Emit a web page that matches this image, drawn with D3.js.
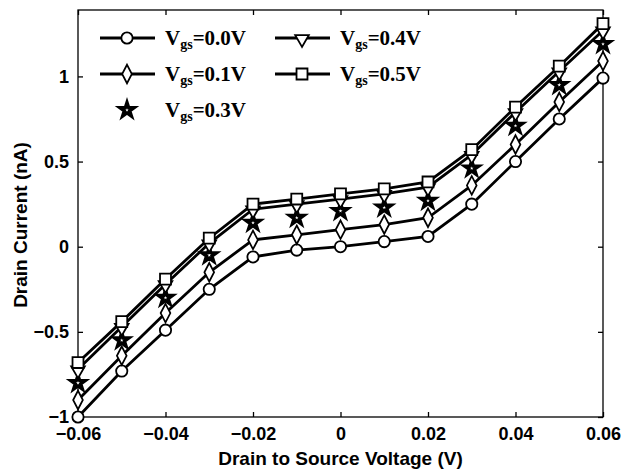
<!DOCTYPE html>
<html>
<head>
<meta charset="utf-8">
<script src="https://cdn.jsdelivr.net/npm/d3@7"></script>
<style>
  body { margin: 0; background: #fff; }
  text { fill: #000; }
</style>
</head>
<body>
<div id="container"></div>
<script>
// drain-source voltage (V)
const vds = [-0.06, -0.05, -0.04, -0.03, -0.02, -0.01, 0, 0.01, 0.02, 0.03, 0.04, 0.05, 0.06];

// drain current (nA) for each gate voltage
const vgs00 = [-1.00, -0.73, -0.49, -0.25, -0.06, -0.02, 0.00, 0.03, 0.06, 0.25, 0.50, 0.75, 0.99];
const vgs01 = [-0.90, -0.64, -0.39, -0.15, 0.04, 0.07, 0.10, 0.13, 0.17, 0.36, 0.60, 0.85, 1.09];
const vgs03 = [-0.80, -0.55, -0.30, -0.05, 0.14, 0.17, 0.21, 0.23, 0.27, 0.46, 0.71, 0.95, 1.19];
const vgs04 = [-0.72, -0.47, -0.22, 0.02, 0.22, 0.25, 0.28, 0.31, 0.35, 0.54, 0.79, 1.03, 1.27];
const vgs05 = [-0.68, -0.44, -0.19, 0.05, 0.25, 0.28, 0.31, 0.34, 0.38, 0.57, 0.82, 1.06, 1.31];

const xTicks = [-0.06, -0.04, -0.02, 0, 0.02, 0.04, 0.06];
const yTicks = [-1, -0.5, 0, 0.5, 1];

const series = [
  {label: "=0.0V", values: vgs00, symbol: "circle", line: true},
  {label: "=0.1V", values: vgs01, symbol: "diamond", line: true},
  {label: "=0.3V", values: vgs03, symbol: "star", line: false},
  {label: "=0.4V", values: vgs04, symbol: "triangle", line: true},
  {label: "=0.5V", values: vgs05, symbol: "square", line: true}
];

const W = 627, H = 472;
const margin = {top: 10, right: 24, bottom: 55, left: 78};
const width = W - margin.left - margin.right;
const height = H - margin.top - margin.bottom;

const svg = d3.select("#container").append("svg")
  .attr("width", W)
  .attr("height", H);

const g = svg.append("g")
  .attr("transform", `translate(${margin.left},${margin.top})`);

const x = d3.scaleLinear().domain([-0.06, 0.06]).range([0, width]);
const y = d3.scaleLinear().domain([-1, 1.39]).range([height, 0]);

const fmt = d => d === 0 ? "0" : d3.format("")(d).replace("-", "\u2212");

// axes with inward ticks, mirrored MATLAB style
const axisStyle = sel => {
  sel.select(".domain").remove();
  sel.selectAll("line").attr("stroke", "#000").attr("stroke-width", 1.3);
  sel.selectAll("text")
    .style("font-family", "Liberation Sans, Arial, sans-serif")
    .style("font-weight", "bold")
    .style("font-size", "18px");
};

g.append("g")
  .attr("transform", `translate(0,${height})`)
  .call(d3.axisBottom(x).tickValues(xTicks).tickFormat(fmt).tickSizeInner(-5).tickPadding(10))
  .call(axisStyle);

g.append("g")
  .call(d3.axisTop(x).tickValues(xTicks).tickFormat("").tickSizeInner(-5))
  .call(axisStyle);

g.append("g")
  .call(d3.axisLeft(y).tickValues(yTicks).tickFormat(fmt).tickSizeInner(-5).tickPadding(9))
  .call(axisStyle);

g.append("g")
  .attr("transform", `translate(${width},0)`)
  .call(d3.axisRight(y).tickValues(yTicks).tickFormat("").tickSizeInner(-5))
  .call(axisStyle);

g.append("rect")
  .attr("width", width)
  .attr("height", height)
  .attr("fill", "none")
  .attr("stroke", "#000")
  .attr("stroke-width", 1.3);

const symbolTypes = {
  circle: d3.symbolCircle,
  diamond: d3.symbolDiamond,
  star: d3.symbolStar,
  triangle: d3.symbolTriangle,
  square: d3.symbolSquare
};
const symbolSize = {circle: 100, diamond: 90, star: 62, triangle: 80, square: 120};

const markerPath = s => d3.symbol().type(symbolTypes[s]).size(symbolSize[s])();

const markerTransform = (s, px, py) => {
  if (s === "triangle") return `translate(${px},${py + 1}) rotate(180)`;
  if (s === "diamond") return `translate(${px},${py}) scale(0.95,1.05)`;
  return `translate(${px},${py})`;
};

const markerStyle = (sel, s) => sel
  .attr("fill", "#fff")
  .attr("stroke", "#000")
  .attr("stroke-linejoin", "miter")
  .attr("stroke-width", s === "star" ? 3.4 : 1.8);

const line = d3.line()
  .x((d, i) => x(vds[i]))
  .y(d => y(d));

series.forEach(s => {
  if (s.line) {
    g.append("path")
      .datum(s.values)
      .attr("fill", "none")
      .attr("stroke", "#000")
      .attr("stroke-width", 2.8)
      .attr("d", line);
  }
  g.selectAll(null)
    .data(s.values)
    .join("path")
    .attr("d", markerPath(s.symbol))
    .attr("transform", (d, i) => markerTransform(s.symbol, x(vds[i]), y(d)))
    .call(markerStyle, s.symbol);
});

// legend
const legendPos = [
  {col: 0, row: 0}, {col: 0, row: 1}, {col: 0, row: 2}, {col: 1, row: 0}, {col: 1, row: 1}
];
series.forEach((s, i) => {
  const p = legendPos[i];
  const lg = svg.append("g")
    .attr("transform", `translate(${100 + p.col * 175},${38 + p.row * 36})`);
  if (s.line) {
    lg.append("line")
      .attr("x1", 0).attr("x2", 55)
      .attr("stroke", "#000").attr("stroke-width", 2.8);
  }
  lg.append("path")
    .attr("d", markerPath(s.symbol))
    .attr("transform", markerTransform(s.symbol, 27, 0))
    .call(markerStyle, s.symbol);
  const t = lg.append("text")
    .attr("x", 65)
    .attr("y", 7)
    .style("font-family", "Liberation Serif, Times New Roman, serif")
    .style("font-weight", "bold")
    .style("font-size", "21px");
  t.append("tspan").text("V");
  t.append("tspan").attr("dy", 4).style("font-size", "14px").text("gs");
  t.append("tspan").attr("dy", -4).text(s.label);
});

// axis titles
svg.append("text")
  .attr("x", margin.left + width / 2)
  .attr("y", 465)
  .attr("text-anchor", "middle")
  .style("font-family", "Liberation Sans, Arial, sans-serif")
  .style("font-weight", "bold")
  .style("font-size", "19px")
  .text("Drain to Source Voltage (V)");

svg.append("text")
  .attr("transform", `translate(27,225) rotate(-90)`)
  .attr("text-anchor", "middle")
  .style("font-family", "Liberation Sans, Arial, sans-serif")
  .style("font-weight", "bold")
  .style("font-size", "19px")
  .text("Drain Current (nA)");
</script>
</body>
</html>
